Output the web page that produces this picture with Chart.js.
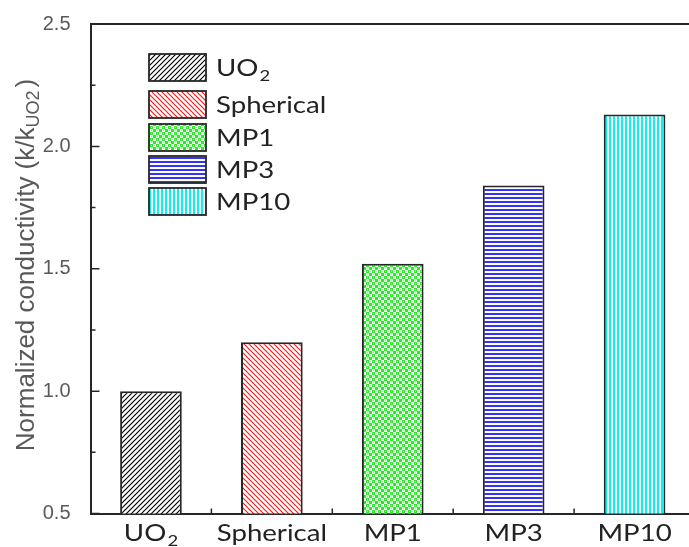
<!DOCTYPE html>
<html>
<head>
<meta charset="utf-8">
<script src="https://cdn.jsdelivr.net/npm/chart.js@4.4.0/dist/chart.umd.min.js"></script>
<style>
  html, body { margin: 0; padding: 0; background: #fff; overflow: hidden; }
  #wrap { width: 689px; height: 547px; overflow: hidden; position: relative; }
</style>
</head>
<body>
<div id="wrap"><canvas id="chart" width="700" height="547"></canvas></div>
<script>
// data
var categories = ['UO2', 'Spherical', 'MP1', 'MP3', 'MP10'];
var values = [1.0, 1.2, 1.52, 1.84, 2.13];
var yTicks = [0.5, 1.0, 1.5, 2.0, 2.5];
var yMinorTicks = [0.75, 1.25, 1.75, 2.25];
// label parts: [main, subscript]
var labelParts = [['UO', '2'], ['Spherical', ''], ['MP1', ''], ['MP3', ''], ['MP10', '']];

// patterns
function makeTile(size, draw) {
    var c = document.createElement('canvas');
    c.width = size; c.height = size;
    var g = c.getContext('2d');
    g.fillStyle = '#fff';
    g.fillRect(0, 0, size, size);
    draw(g, size);
    return document.getElementById('chart').getContext('2d').createPattern(c, 'repeat');
}
var patterns = [
    makeTile(5, function(g, s){
        g.strokeStyle = '#000'; g.lineWidth = 1.2;
        g.beginPath();
        g.moveTo(-1, s + 1); g.lineTo(s + 1, -1);
        g.moveTo(-1, 1); g.lineTo(1, -1);
        g.moveTo(s - 1, s + 1); g.lineTo(s + 1, s - 1);
        g.stroke();
    }),
    makeTile(5, function(g, s){
        g.strokeStyle = '#ff1a1a'; g.lineWidth = 1.2;
        g.beginPath();
        g.moveTo(-1, -1); g.lineTo(s + 1, s + 1);
        g.moveTo(s - 1, -1); g.lineTo(s + 1, 1);
        g.moveTo(-1, s - 1); g.lineTo(1, s + 1);
        g.stroke();
    }),
    makeTile(6, function(g, s){
        g.fillStyle = '#22ee22';
        g.fillRect(0, 0, 3, 3);
        g.fillRect(3, 3, 3, 3);
        g.fillStyle = '#fff';
        g.fillRect(1, 1, 1, 1);
        g.fillStyle = '#88f588';
        g.fillRect(4, 1, 1, 1);
        g.fillRect(1, 4, 1, 1);
    }),
    makeTile(4, function(g, s){
        g.fillStyle = '#3333ff';
        g.fillRect(0, 1, s, 2);
    }),
    makeTile(4, function(g, s){
        g.fillStyle = '#00f5f5';
        g.fillRect(1, 0, 2, s);
    })
];

var textFont = '"Lato", "Open Sans", sans-serif';
var axisColor = '#262626';

function drawSubText(ctx, x, y, parts, size, align) {
    ctx.font = size + 'px ' + textFont;
    var w1 = ctx.measureText(parts[0]).width;
    ctx.font = Math.round(size * 0.65) + 'px ' + textFont;
    var w2 = parts[1] ? ctx.measureText(parts[1]).width + 1 : 0;
    var total = w1 + w2;
    var sx = align === 'center' ? x - total / 2 : x;
    ctx.textAlign = 'left';
    ctx.textBaseline = 'alphabetic';
    ctx.font = size + 'px ' + textFont;
    ctx.fillText(parts[0], sx, y);
    if (parts[1]) {
        ctx.font = Math.round(size * 0.65) + 'px ' + textFont;
        ctx.fillText(parts[1], sx + w1 + 1, y + size * 0.2);
    }
}

var decorPlugin = {
    id: 'decor',
    afterDraw: function(chart) {
        var ctx = chart.ctx;
        var area = chart.chartArea;
        var xs = chart.scales.x, ys = chart.scales.y;
        ctx.save();
        // top frame
        ctx.strokeStyle = axisColor;
        ctx.lineWidth = 2;
        ctx.beginPath();
        ctx.moveTo(area.left, area.top);
        ctx.lineTo(area.right, area.top);
        ctx.stroke();
        // inward y ticks
        ctx.lineWidth = 1.5;
        ctx.beginPath();
        yTicks.forEach(function(v){
            var py = ys.getPixelForValue(v);
            ctx.moveTo(area.left, py); ctx.lineTo(area.left + 9, py);
        });
        yMinorTicks.forEach(function(v){
            var py = ys.getPixelForValue(v);
            ctx.moveTo(area.left, py); ctx.lineTo(area.left + 5, py);
        });
        // inward x ticks between categories
        var half = (xs.getPixelForValue(1) - xs.getPixelForValue(0)) / 2;
        for (var i = 1; i < categories.length; i++) {
            var px = xs.getPixelForValue(i) - half;
            ctx.moveTo(px, area.bottom); ctx.lineTo(px, area.bottom - 5);
        }
        ctx.stroke();

        // x labels
        ctx.fillStyle = '#222';
        labelParts.forEach(function(p, i){
            var px = xs.getPixelForValue(i);
            ctx.save();
            ctx.translate(px, 0);
            ctx.scale(1.15, 1);
            drawSubText(ctx, 0, 541, p, 24, 'center');
            ctx.restore();
        });

        // legend
        var boxTops = [54, 91, 124, 156, 188];
        labelParts.forEach(function(p, i){
            var top = boxTops[i];
            ctx.fillStyle = patterns[i];
            ctx.fillRect(149, top, 57, 27);
            ctx.strokeStyle = axisColor;
            ctx.lineWidth = 1.8;
            ctx.strokeRect(149, top, 57, 27);
            ctx.fillStyle = '#222';
            ctx.save();
            ctx.translate(216, 0);
            ctx.scale(1.15, 1);
            drawSubText(ctx, 0, top + 22, p, 24, 'left');
            ctx.restore();
        });

        // y title with subscript
        ctx.save();
        ctx.fillStyle = '#595959';
        var tSize = 26;
        var f1 = tSize + 'px "Liberation Sans", Arial, sans-serif';
        var f2 = Math.round(tSize * 0.68) + 'px "Liberation Sans", Arial, sans-serif';
        var s1 = 'Normalized conductivity (k/k', s2 = 'UO2', s3 = ')';
        ctx.font = f1;
        var w1 = ctx.measureText(s1).width, w3 = ctx.measureText(s3).width;
        ctx.font = f2;
        var w2 = ctx.measureText(s2).width;
        var total = w1 + w2 + w3 + 3;
        ctx.translate(34, 265);
        ctx.rotate(-Math.PI / 2);
        ctx.textAlign = 'left';
        ctx.textBaseline = 'alphabetic';
        var sx = -total / 2;
        ctx.font = f1; ctx.fillText(s1, sx, 0);
        ctx.font = f2; ctx.fillText(s2, sx + w1, 5);
        ctx.font = f1; ctx.fillText(s3, sx + w1 + w2 + 3, 0);
        ctx.restore();

        ctx.restore();
    }
};

new Chart(document.getElementById('chart'), {
    type: 'bar',
    data: {
        labels: categories,
        datasets: [{
            data: values,
            backgroundColor: patterns,
            borderColor: axisColor,
            borderWidth: 2,
            borderSkipped: 'bottom',
            barPercentage: 0.51,
            categoryPercentage: 1.0
        }]
    },
    options: {
        responsive: false,
        devicePixelRatio: 1,
        animation: false,
        layout: { padding: { top: 23.5, right: 5, left: 0, bottom: 0 } },
        plugins: { legend: { display: false }, tooltip: { enabled: false } },
        scales: {
            x: {
                grid: { display: false },
                border: { color: axisColor, width: 2 },
                ticks: { display: false },
                afterFit: function(scale) { scale.height = 33.5; }
            },
            y: {
                min: 0.5,
                max: 2.5,
                grid: { display: false },
                border: { color: axisColor, width: 2 },
                afterBuildTicks: function(scale) {
                    scale.ticks = yTicks.map(function(v){ return { value: v }; });
                },
                ticks: {
                    padding: 12,
                    color: '#595959',
                    font: { family: '"Liberation Sans", Arial, sans-serif', size: 20 },
                    callback: function(v) { return Number(v).toFixed(1); }
                },
                afterFit: function(scale) { scale.width = 90.5; }
            }
        }
    },
    plugins: [decorPlugin]
});
</script>
</body>
</html>
